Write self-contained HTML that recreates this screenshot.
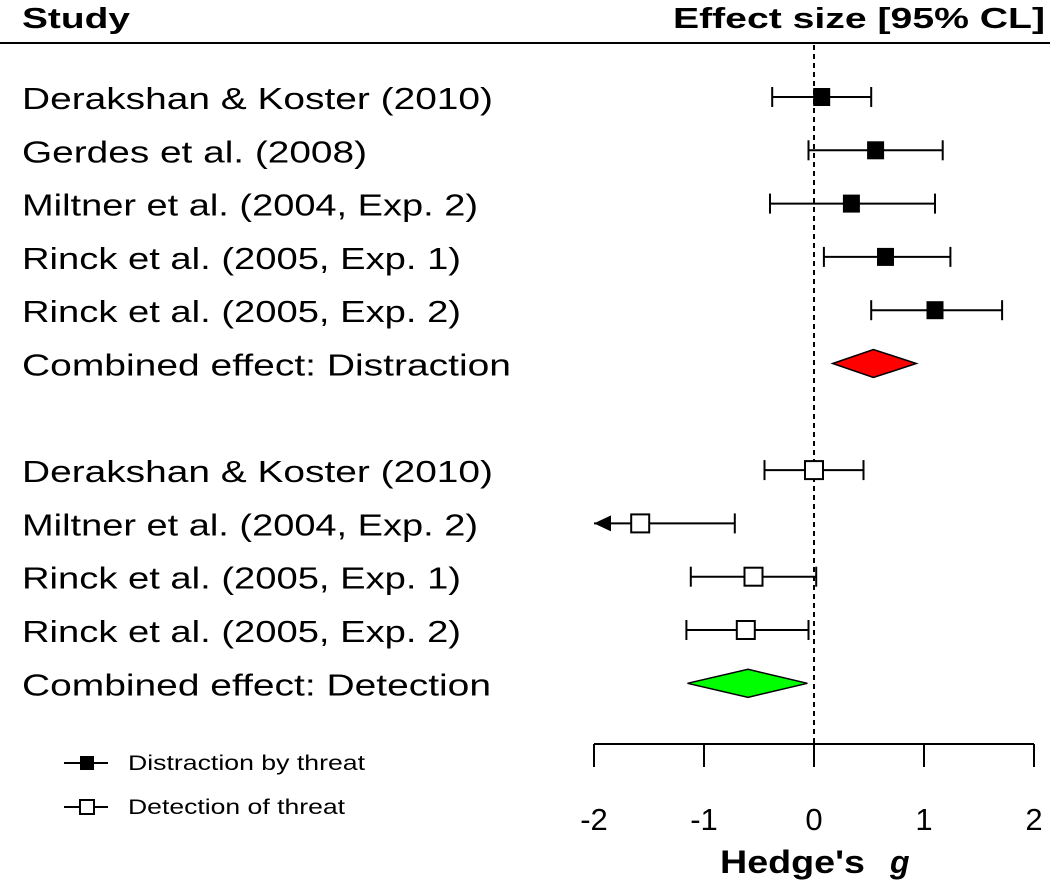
<!DOCTYPE html>
<html><head><meta charset="utf-8"><style>
html,body{margin:0;padding:0;background:#fff;}
svg{display:block;font-family:"Liberation Sans",Arial,sans-serif;}
</style></head><body>
<svg id="chart" width="1050" height="892" viewBox="0 0 1050 892" xmlns="http://www.w3.org/2000/svg">
<text x="22" y="28" font-size="29" font-weight="bold" textLength="108" lengthAdjust="spacingAndGlyphs">Study</text>
<text x="673" y="28" font-size="29" font-weight="bold" textLength="372" lengthAdjust="spacingAndGlyphs">Effect size [95% CL]</text>
<line x1="0" y1="43" x2="1050" y2="43" stroke="#000" stroke-width="2"/>
<g id="plot"></g>
<g>
  <line x1="64" y1="763" x2="108" y2="763" stroke="#000" stroke-width="2"/>
  <rect x="80" y="756" width="14" height="14" fill="#000"/>
  <text x="128" y="770" font-size="21" textLength="237" lengthAdjust="spacingAndGlyphs">Distraction by threat</text>
  <line x1="64" y1="807" x2="108" y2="807" stroke="#000" stroke-width="2"/>
  <rect x="80" y="800" width="14" height="14" fill="#fff" stroke="#000" stroke-width="2"/>
  <text x="128" y="814" font-size="21" textLength="217" lengthAdjust="spacingAndGlyphs">Detection of threat</text>
</g>
<text x="720" y="873" font-size="32" font-weight="bold" textLength="145" lengthAdjust="spacingAndGlyphs">Hedge's</text>
<text x="890" y="873" font-size="32" font-weight="bold" font-style="italic">g</text>
</svg>
<script>
const labels = ["Derakshan & Koster (2010)","Gerdes et al. (2008)","Miltner et al. (2004, Exp. 2)","Rinck et al. (2005, Exp. 1)","Rinck et al. (2005, Exp. 2)","Combined effect: Distraction","","Derakshan & Koster (2010)","Miltner et al. (2004, Exp. 2)","Rinck et al. (2005, Exp. 1)","Rinck et al. (2005, Exp. 2)","Combined effect: Detection"];
const labelWidths = [471,345,456,439,439,489,0,471,456,439,439,469];
const kinds = ["d","d","d","d","d","sd","","o","o","o","o","so"];
const est = [0.07,0.56,0.34,0.65,1.1,0.54,null,0.0,-1.58,-0.55,-0.62,-0.6];
const lo  = [-0.38,-0.05,-0.4,0.09,0.52,0.17,null,-0.45,-2.4,-1.12,-1.16,-1.15];
const hi  = [0.52,1.17,1.1,1.24,1.71,0.93,null,0.45,-0.72,0.02,-0.05,-0.06];
const ticks = [-2,-1,0,1,2];
const tickLabels = ["-2","-1","0","1","2"];

const NS="http://www.w3.org/2000/svg";
const g=document.getElementById('plot');
const xMin=-2,xMax=2,px0=594,px1=1034;
function X(v){return px0+(v-xMin)/(xMax-xMin)*(px1-px0);}
function Y(i){return 97+i*53.3;}
function mk(tag,attrs,parent){const e=document.createElementNS(NS,tag);for(const k in attrs)e.setAttribute(k,attrs[k]);(parent||g).appendChild(e);return e;}

// reference line
let ref=mk('line',{x1:X(0),y1:45,x2:X(0),y2:744,stroke:'#000','stroke-width':2,'stroke-dasharray':'5,4'});



// axis
let ax=mk('line',{x1:X(xMin),y1:744,x2:X(xMax),y2:744,stroke:'#000','stroke-width':2});


ticks.forEach((t,i)=>{
  let tl=mk('line',{x1:X(t),y1:744,x2:X(t),y2:767,stroke:'#000','stroke-width':2});
  
  
  let tx=mk('text',{x:X(t),y:830,'font-size':31,'text-anchor':'middle'});
  tx.textContent=tickLabels[i];
  
  
});

labels.forEach((lab,i)=>{
  if(!lab) return;
  const y=Y(i);
  let t=mk('text',{x:22,y:y+12,'font-size':31,textLength:labelWidths[i],lengthAdjust:'spacingAndGlyphs'});
  t.textContent=lab;
  
  
  const k=kinds[i];
  if(k==='sd'||k==='so'){
    const pts=[[X(lo[i]),y],[X(est[i]),y-14],[X(hi[i]),y],[X(est[i]),y+14]].map(p=>p.join(',')).join(' ');
    let d=mk('polygon',{points:pts,fill:k==='sd'?'#ff0000':'#00ff00',stroke:'#000','stroke-width':1.5});
    
    
    return;
  }
  const clipped=lo[i]<xMin;
  const left=clipped?X(xMin):X(lo[i]);
  let l=mk('line',{x1:left,y1:y,x2:X(hi[i]),y2:y,stroke:'#000','stroke-width':2});
  
  
  if(clipped){
    let a=mk('polygon',{points:`${left},${y} ${left+17},${y-8} ${left+17},${y+8}`,fill:'#000'});
    
    
  } else {
    let c=mk('line',{x1:left,y1:y-10,x2:left,y2:y+10,stroke:'#000','stroke-width':2});
    
    
  }
  let c2=mk('line',{x1:X(hi[i]),y1:y-10,x2:X(hi[i]),y2:y+10,stroke:'#000','stroke-width':2});
  
  
  let s;
  if(k==='d'){
    s=mk('rect',{x:X(est[i])-8.5,y:y-9,width:17,height:18,fill:'#000'});
  } else {
    s=mk('rect',{x:X(est[i])-9,y:y-9,width:18,height:18,fill:'#fff',stroke:'#000','stroke-width':2});
  }
  
  
});
</script>
</body></html>
